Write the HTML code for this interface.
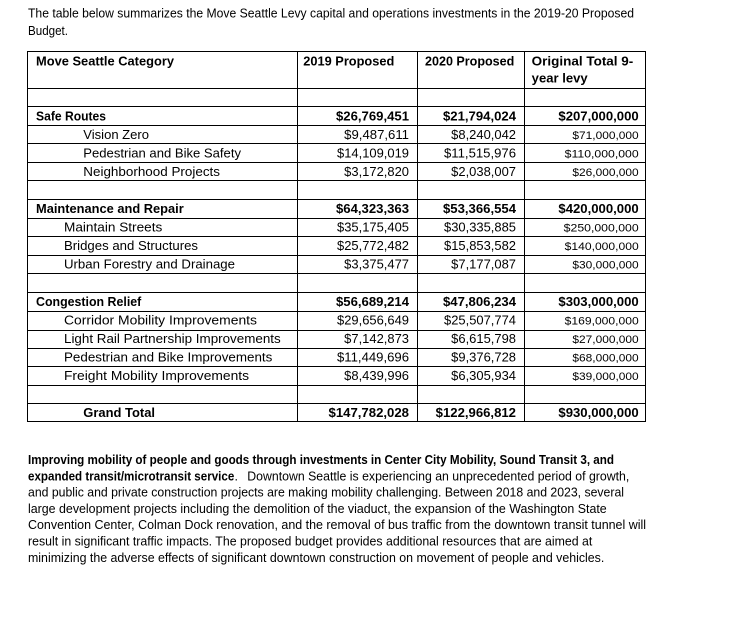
<!DOCTYPE html>
<html>
<head>
<meta charset="utf-8">
<style>
html,body{margin:0;padding:0;background:#fff;}
svg{display:block;}
text{font-family:"Liberation Sans",Arial,sans-serif;fill:#000;}
.n{font-size:12.5px;}
.b{font-size:12.5px;font-weight:bold;}
.s{font-size:11px;}
</style>
</head>
<body>
<svg width="731" height="623" viewBox="0 0 731 623" xmlns="http://www.w3.org/2000/svg">
<rect width="731" height="623" fill="#fff"/>

<!-- intro -->
<text class="n" x="28" y="17.7" textLength="606" lengthAdjust="spacingAndGlyphs">The table below summarizes the Move Seattle Levy capital and operations investments in the 2019-20 Proposed</text>
<text class="n" x="28" y="35" textLength="40" lengthAdjust="spacingAndGlyphs">Budget.</text>

<!-- table lines -->
<g stroke="#000" stroke-width="1" shape-rendering="crispEdges" fill="none">
<line x1="27" y1="51.5" x2="646" y2="51.5"/>
<line x1="27" y1="88.5" x2="646" y2="88.5"/>
<line x1="27" y1="106.5" x2="646" y2="106.5"/>
<line x1="27" y1="125.5" x2="646" y2="125.5"/>
<line x1="27" y1="143.5" x2="646" y2="143.5"/>
<line x1="27" y1="162.5" x2="646" y2="162.5"/>
<line x1="27" y1="180.5" x2="646" y2="180.5"/>
<line x1="27" y1="199.5" x2="646" y2="199.5"/>
<line x1="27" y1="218.5" x2="646" y2="218.5"/>
<line x1="27" y1="236.5" x2="646" y2="236.5"/>
<line x1="27" y1="255.5" x2="646" y2="255.5"/>
<line x1="27" y1="273.5" x2="646" y2="273.5"/>
<line x1="27" y1="292.5" x2="646" y2="292.5"/>
<line x1="27" y1="311.5" x2="646" y2="311.5"/>
<line x1="27" y1="330.5" x2="646" y2="330.5"/>
<line x1="27" y1="348.5" x2="646" y2="348.5"/>
<line x1="27" y1="366.5" x2="646" y2="366.5"/>
<line x1="27" y1="385.5" x2="646" y2="385.5"/>
<line x1="27" y1="403.5" x2="646" y2="403.5"/>
<line x1="27" y1="421.5" x2="646" y2="421.5"/>
<line x1="27.5" y1="51" x2="27.5" y2="422"/>
<line x1="297.5" y1="51" x2="297.5" y2="422"/>
<line x1="417.5" y1="51" x2="417.5" y2="422"/>
<line x1="524.5" y1="51" x2="524.5" y2="422"/>
<line x1="645.5" y1="51" x2="645.5" y2="422"/>
</g>

<!-- header -->
<text class="b" x="36" y="65.5" textLength="138" lengthAdjust="spacingAndGlyphs">Move Seattle Category</text>
<text class="b" x="303.3" y="65.5" textLength="91" lengthAdjust="spacingAndGlyphs">2019 Proposed</text>
<text class="b" x="425" y="65.5" textLength="89.3" lengthAdjust="spacingAndGlyphs">2020 Proposed</text>
<text class="b" x="531.7" y="65.5" textLength="101.6" lengthAdjust="spacingAndGlyphs">Original Total 9-</text>
<text class="b" x="531.7" y="82.5" textLength="56" lengthAdjust="spacingAndGlyphs">year levy</text>

<!-- Safe Routes -->
<text class="b" x="36" y="120.3" textLength="70" lengthAdjust="spacingAndGlyphs">Safe Routes</text>
<text class="b" x="336" y="120.3" textLength="73" lengthAdjust="spacingAndGlyphs">$26,769,451</text>
<text class="b" x="443" y="120.3" textLength="73" lengthAdjust="spacingAndGlyphs">$21,794,024</text>
<text class="b" x="558.4" y="120.3" textLength="80.3" lengthAdjust="spacingAndGlyphs">$207,000,000</text>

<text class="n" x="83.3" y="138.9" textLength="65.7" lengthAdjust="spacingAndGlyphs">Vision Zero</text>
<text class="n" x="344.2" y="138.9" textLength="64.8" lengthAdjust="spacingAndGlyphs">$9,487,611</text>
<text class="n" x="451.2" y="138.9" textLength="64.8" lengthAdjust="spacingAndGlyphs">$8,240,042</text>
<text class="s" x="572.4" y="138.9" textLength="66.3" lengthAdjust="spacingAndGlyphs">$71,000,000</text>

<text class="n" x="83.3" y="157.4" textLength="157.7" lengthAdjust="spacingAndGlyphs">Pedestrian and Bike Safety</text>
<text class="n" x="337" y="157.4" textLength="72" lengthAdjust="spacingAndGlyphs">$14,109,019</text>
<text class="n" x="444" y="157.4" textLength="72" lengthAdjust="spacingAndGlyphs">$11,515,976</text>
<text class="s" x="564.7" y="157.4" textLength="74" lengthAdjust="spacingAndGlyphs">$110,000,000</text>

<text class="n" x="83.3" y="176" textLength="136.7" lengthAdjust="spacingAndGlyphs">Neighborhood Projects</text>
<text class="n" x="344.2" y="176" textLength="64.8" lengthAdjust="spacingAndGlyphs">$3,172,820</text>
<text class="n" x="451.2" y="176" textLength="64.8" lengthAdjust="spacingAndGlyphs">$2,038,007</text>
<text class="s" x="572.4" y="176" textLength="66.3" lengthAdjust="spacingAndGlyphs">$26,000,000</text>

<!-- Maintenance -->
<text class="b" x="36" y="213" textLength="147.7" lengthAdjust="spacingAndGlyphs">Maintenance and Repair</text>
<text class="b" x="336" y="213" textLength="73" lengthAdjust="spacingAndGlyphs">$64,323,363</text>
<text class="b" x="443" y="213" textLength="73" lengthAdjust="spacingAndGlyphs">$53,366,554</text>
<text class="b" x="558.4" y="213" textLength="80.3" lengthAdjust="spacingAndGlyphs">$420,000,000</text>

<text class="n" x="64" y="231.6" textLength="98.3" lengthAdjust="spacingAndGlyphs">Maintain Streets</text>
<text class="n" x="337" y="231.6" textLength="72" lengthAdjust="spacingAndGlyphs">$35,175,405</text>
<text class="n" x="444" y="231.6" textLength="72" lengthAdjust="spacingAndGlyphs">$30,335,885</text>
<text class="s" x="563.7" y="231.6" textLength="75" lengthAdjust="spacingAndGlyphs">$250,000,000</text>

<text class="n" x="64" y="250.1" textLength="134" lengthAdjust="spacingAndGlyphs">Bridges and Structures</text>
<text class="n" x="337" y="250.1" textLength="72" lengthAdjust="spacingAndGlyphs">$25,772,482</text>
<text class="n" x="444" y="250.1" textLength="72" lengthAdjust="spacingAndGlyphs">$15,853,582</text>
<text class="s" x="564.7" y="250.1" textLength="74" lengthAdjust="spacingAndGlyphs">$140,000,000</text>

<text class="n" x="64" y="268.7" textLength="171" lengthAdjust="spacingAndGlyphs">Urban Forestry and Drainage</text>
<text class="n" x="344.2" y="268.7" textLength="64.8" lengthAdjust="spacingAndGlyphs">$3,375,477</text>
<text class="n" x="451.2" y="268.7" textLength="64.8" lengthAdjust="spacingAndGlyphs">$7,177,087</text>
<text class="s" x="572.4" y="268.7" textLength="66.3" lengthAdjust="spacingAndGlyphs">$30,000,000</text>

<!-- Congestion -->
<text class="b" x="36" y="305.9" textLength="105.3" lengthAdjust="spacingAndGlyphs">Congestion Relief</text>
<text class="b" x="336" y="305.9" textLength="73" lengthAdjust="spacingAndGlyphs">$56,689,214</text>
<text class="b" x="443" y="305.9" textLength="73" lengthAdjust="spacingAndGlyphs">$47,806,234</text>
<text class="b" x="558.4" y="305.9" textLength="80.3" lengthAdjust="spacingAndGlyphs">$303,000,000</text>

<text class="n" x="64" y="324.5" textLength="193" lengthAdjust="spacingAndGlyphs">Corridor Mobility Improvements</text>
<text class="n" x="337" y="324.5" textLength="72" lengthAdjust="spacingAndGlyphs">$29,656,649</text>
<text class="n" x="444" y="324.5" textLength="72" lengthAdjust="spacingAndGlyphs">$25,507,774</text>
<text class="s" x="564.7" y="324.5" textLength="74" lengthAdjust="spacingAndGlyphs">$169,000,000</text>

<text class="n" x="64" y="343" textLength="216.7" lengthAdjust="spacingAndGlyphs">Light Rail Partnership Improvements</text>
<text class="n" x="344.2" y="343" textLength="64.8" lengthAdjust="spacingAndGlyphs">$7,142,873</text>
<text class="n" x="451.2" y="343" textLength="64.8" lengthAdjust="spacingAndGlyphs">$6,615,798</text>
<text class="s" x="572.4" y="343" textLength="66.3" lengthAdjust="spacingAndGlyphs">$27,000,000</text>

<text class="n" x="64" y="361.6" textLength="208.3" lengthAdjust="spacingAndGlyphs">Pedestrian and Bike Improvements</text>
<text class="n" x="337" y="361.6" textLength="72" lengthAdjust="spacingAndGlyphs">$11,449,696</text>
<text class="n" x="451.2" y="361.6" textLength="64.8" lengthAdjust="spacingAndGlyphs">$9,376,728</text>
<text class="s" x="572.4" y="361.6" textLength="66.3" lengthAdjust="spacingAndGlyphs">$68,000,000</text>

<text class="n" x="64" y="380.1" textLength="185" lengthAdjust="spacingAndGlyphs">Freight Mobility Improvements</text>
<text class="n" x="344.2" y="380.1" textLength="64.8" lengthAdjust="spacingAndGlyphs">$8,439,996</text>
<text class="n" x="451.2" y="380.1" textLength="64.8" lengthAdjust="spacingAndGlyphs">$6,305,934</text>
<text class="s" x="572.4" y="380.1" textLength="66.3" lengthAdjust="spacingAndGlyphs">$39,000,000</text>

<!-- Grand total -->
<text class="b" x="83.3" y="417" textLength="71.7" lengthAdjust="spacingAndGlyphs">Grand Total</text>
<text class="b" x="328.5" y="417" textLength="80.5" lengthAdjust="spacingAndGlyphs">$147,782,028</text>
<text class="b" x="435.7" y="417" textLength="80.3" lengthAdjust="spacingAndGlyphs">$122,966,812</text>
<text class="b" x="558.4" y="417" textLength="80.3" lengthAdjust="spacingAndGlyphs">$930,000,000</text>

<!-- paragraph -->
<text class="b" x="28" y="464" textLength="586" lengthAdjust="spacingAndGlyphs">Improving mobility of people and goods through investments in Center City Mobility, Sound Transit 3, and</text>
<text class="b" x="28" y="480.3" textLength="206.3" lengthAdjust="spacingAndGlyphs">expanded transit/microtransit service</text>
<text class="n" x="234.5" y="480.3">.</text>
<text class="n" x="247.3" y="480.3" textLength="382" lengthAdjust="spacingAndGlyphs">Downtown Seattle is experiencing an unprecedented period of growth,</text>
<text class="n" x="28" y="496.6" textLength="596" lengthAdjust="spacingAndGlyphs">and public and private construction projects are making mobility challenging. Between 2018 and 2023, several</text>
<text class="n" x="28" y="512.9" textLength="578.7" lengthAdjust="spacingAndGlyphs">large development projects including the demolition of the viaduct, the expansion of the Washington State</text>
<text class="n" x="28" y="529.2" textLength="618" lengthAdjust="spacingAndGlyphs">Convention Center, Colman Dock renovation, and the removal of bus traffic from the downtown transit tunnel will</text>
<text class="n" x="28" y="545.5" textLength="564.3" lengthAdjust="spacingAndGlyphs">result in significant traffic impacts. The proposed budget provides additional resources that are aimed at</text>
<text class="n" x="28" y="561.8" textLength="576.3" lengthAdjust="spacingAndGlyphs">minimizing the adverse effects of significant downtown construction on movement of people and vehicles.</text>
</svg>
</body>
</html>
